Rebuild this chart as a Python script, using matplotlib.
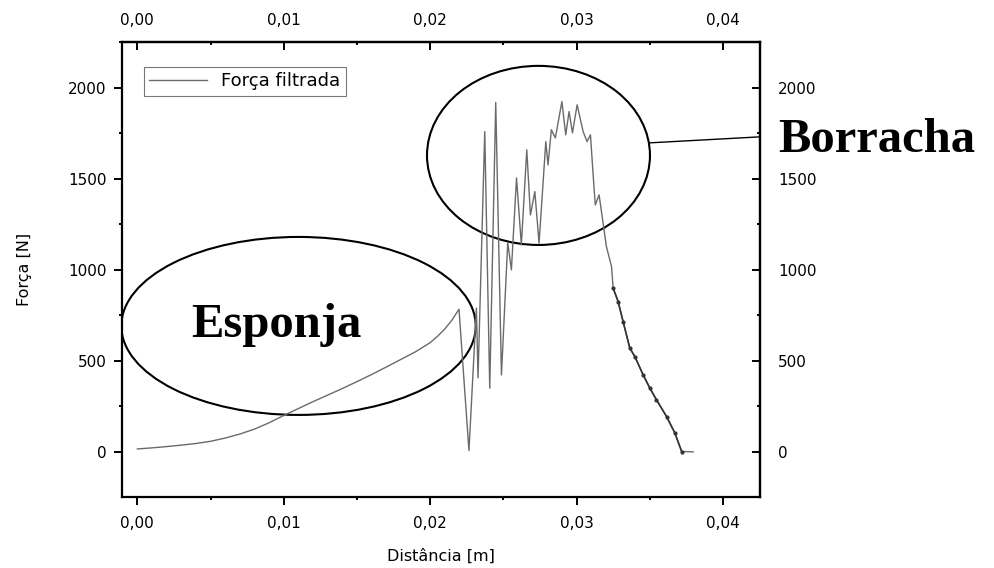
import matplotlib.pyplot as plt
from matplotlib.patches import Ellipse
from matplotlib.ticker import MultipleLocator, FuncFormatter

# force curve (distance in m, force in N)
dist = [0.0, 0.001, 0.002, 0.003, 0.004, 0.005, 0.006, 0.007, 0.008, 0.009,
        0.01, 0.011, 0.012, 0.013, 0.014, 0.015, 0.016, 0.017, 0.018, 0.019,
        0.0195, 0.02, 0.0205, 0.021, 0.0215,
        0.02197, 0.02265, 0.02316, 0.02327, 0.02373, 0.02407, 0.02448, 0.02487,
        0.0253, 0.02555, 0.0259, 0.02623, 0.0266, 0.02685, 0.02715, 0.02744,
        0.0279, 0.02805, 0.02828, 0.02855, 0.0290, 0.02926, 0.02949, 0.02972,
        0.03004, 0.03045, 0.03072, 0.03095, 0.03118, 0.03128, 0.03154, 0.03204,
        0.03239, 0.0325, 0.03284, 0.03318, 0.03364, 0.03398, 0.03455, 0.03501,
        0.03546, 0.03615, 0.03672, 0.03718, 0.03797]
force = [16, 22, 29, 37, 46, 58, 76, 98, 125, 160,
         200, 238, 276, 312, 348, 386, 425, 466, 508, 550,
         575, 600, 635, 675, 725,
         784, 7, 790, 407, 1760, 350, 1920, 423,
         1150, 1000, 1505, 1137, 1660, 1302, 1430, 1147,
         1705, 1577, 1770, 1725, 1925, 1742, 1870, 1753,
         1907, 1760, 1705, 1742, 1467, 1357, 1412, 1128,
         1018, 900, 826, 716, 570, 524, 423, 350,
         286, 194, 103, 2, 0]

series_label = "Força filtrada"
x_label = "Distância [m]"
y_label = "Força [N]"

fig = plt.figure(figsize=(9.95, 5.68), dpi=100)
ax = fig.add_axes([0.1226, 0.125, 0.6412, 0.801])

ax.plot(dist, force, color="#6a6a6a", lw=1.0, label=series_label)
# the unloading part looks darker, with blobs
ax.plot(dist[58:69], force[58:69], "-o", lw=1.2, ms=2.0, color="#333333")

ax.set_xlim(-0.00105, 0.04253)
ax.set_ylim(-248, 2252)

# annotation ellipses
ax.add_patch(Ellipse((0.01101, 692), 0.02421, 978, fill=False, ec="black", lw=1.5))
ax.add_patch(Ellipse((0.0274, 1629), 0.01523, 984, fill=False, ec="black", lw=1.5))
ax.plot([0.0350, 0.04253], [1698, 1731], color="black", lw=1.0, clip_on=False)

ax.text(0.0095, 632, "Esponja", family="Liberation Serif", weight="bold",
        fontsize=35, ha="center", va="baseline")
ax.text(0.04376, 1648, "Borracha", family="Liberation Serif", weight="bold",
        fontsize=35, ha="left", va="baseline", clip_on=False)

comma = FuncFormatter(lambda v, p: f"{v:.2f}".replace(".", ","))
ax.xaxis.set_major_locator(MultipleLocator(0.01))
ax.xaxis.set_minor_locator(MultipleLocator(0.005))
ax.xaxis.set_major_formatter(comma)
ax.yaxis.set_major_locator(MultipleLocator(500))
ax.yaxis.set_minor_locator(MultipleLocator(250))
ax.tick_params(which="both", direction="out", labelsize=11, width=1.4)
ax.tick_params(which="major", length=6)
ax.tick_params(which="minor", length=2.5)
ax.tick_params(axis="x", pad=8)
ax.tick_params(axis="y", pad=5)

# top and right axes with inward ticks
top = ax.secondary_xaxis("top")
top.xaxis.set_major_locator(MultipleLocator(0.01))
top.xaxis.set_minor_locator(MultipleLocator(0.005))
top.xaxis.set_major_formatter(comma)
top.tick_params(which="both", direction="in", labelsize=11, width=1.4, pad=10)
top.tick_params(which="major", length=6)
top.tick_params(which="minor", length=2.5)

right = ax.secondary_yaxis("right")
right.yaxis.set_major_locator(MultipleLocator(500))
right.yaxis.set_minor_locator(MultipleLocator(250))
right.tick_params(which="both", direction="in", labelsize=11, width=1.4, pad=13)
right.tick_params(which="major", length=6)
right.tick_params(which="minor", length=2.5)

for s in ax.spines.values():
    s.set_linewidth(1.6)
top.spines["top"].set_linewidth(1.6)
right.spines["right"].set_linewidth(1.6)

ax.set_xlabel(x_label, fontsize=11.5, labelpad=12)
ax.set_ylabel(y_label, fontsize=11.5, labelpad=26)

leg = ax.legend(loc="upper left", bbox_to_anchor=(0.034, 0.945), fontsize=13,
                fancybox=False, handlelength=3.2, borderpad=0.3, borderaxespad=0)
leg.get_frame().set_edgecolor("#555555")
leg.get_frame().set_linewidth(0.8)

plt.savefig("out.png", dpi=100)
plt.close()
